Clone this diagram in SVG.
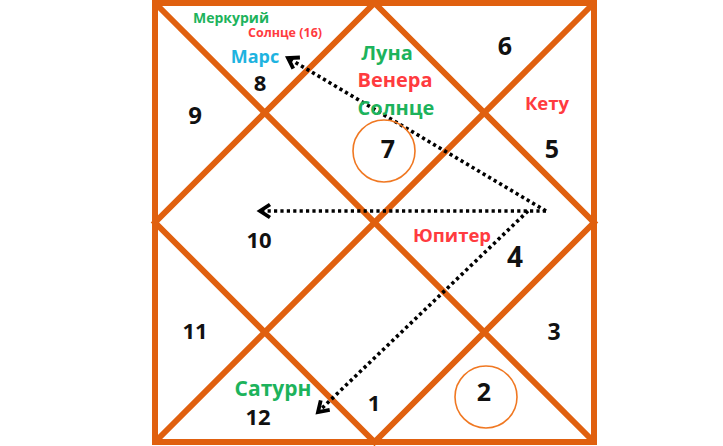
<svg xmlns="http://www.w3.org/2000/svg" width="723" height="446" viewBox="0 0 723 446">
<style>
.frame{fill:none;stroke:#E0600F;stroke-width:6;stroke-linejoin:miter}
.ring{fill:none;stroke:#F07822;stroke-width:1.6}
text{font-family:"Open Sans","Noto Sans","Liberation Sans",sans-serif;text-anchor:middle}
.num{fill:#111;font-weight:700}
.lbl{font-weight:700}
.g{fill:#1DB35C}
.r{fill:#FF3B3F}
.b{fill:#1EB3E0}
.dot{fill:none;stroke:#000;stroke-width:3.6;stroke-dasharray:3.2 3.2}
</style>
<defs>
<marker id="chev" markerUnits="userSpaceOnUse" viewBox="-14 -9 18 18" refX="0" refY="0" markerWidth="18" markerHeight="18" orient="auto">
<path d="M-10,-6.5 L0,0 L-10,6.5" fill="none" stroke="#000" stroke-width="3.8" stroke-linejoin="miter" stroke-linecap="butt"/>
</marker>
</defs>
<rect width="723" height="446" fill="#fff"/>
<g id="chart">
<rect class="frame" x="155" y="3" width="439" height="439"/>
<line class="frame" x1="155" y1="3" x2="594" y2="442"/>
<line class="frame" x1="594" y1="3" x2="155" y2="442"/>
<polygon class="frame" points="374.5,3 594,222.5 374.5,442 155,222.5"/>
</g>
<g id="connectors">
<line class="dot" x1="546" y1="211" x2="288" y2="58" marker-end="url(#chev)"/>
<line class="dot" x1="546" y1="211" x2="260" y2="211" marker-end="url(#chev)"/>
<line class="dot" x1="528" y1="211" x2="318" y2="412" marker-end="url(#chev)"/>
</g>
<g id="house1"><text class="num" x="374" y="411" font-size="22">1</text></g>
<g id="house2"><circle class="ring" cx="486" cy="397" r="31"/><text class="num" x="484" y="401" font-size="25">2</text></g>
<g id="house3"><text class="num" x="554" y="340" font-size="23">3</text></g>
<g id="house4"><text class="lbl r" x="452" y="242" font-size="18.5">Юпитер</text><text class="num" x="515" y="267" font-size="28">4</text></g>
<g id="house5"><text class="lbl r" x="547" y="110" font-size="18.5">Кету</text><text class="num" x="552" y="158" font-size="25">5</text></g>
<g id="house6"><text class="num" x="505" y="55" font-size="25">6</text></g>
<g id="house7"><text class="lbl g" x="387" y="60" font-size="20">Луна</text><text class="lbl r" x="395" y="87" font-size="20">Венера</text><text class="lbl g" x="396" y="115" font-size="20">Солнце</text><circle class="ring" cx="384" cy="151" r="31"/><text class="num" x="388" y="158" font-size="25">7</text></g>
<g id="house8"><text class="lbl g" x="231" y="23" font-size="14">Меркурий</text><text class="lbl r" x="285" y="37" font-size="12.5">Солнце (16)</text><text class="lbl b" x="255" y="63" font-size="18">Марс</text><text class="num" x="260" y="91" font-size="22">8</text></g>
<g id="house9"><text class="num" x="195" y="124" font-size="24">9</text></g>
<g id="house10"><text class="num" x="259" y="248" font-size="22">10</text></g>
<g id="house11"><text class="num" x="195" y="339" font-size="22">11</text></g>
<g id="house12"><text class="lbl g" x="273" y="396" font-size="21">Сатурн</text><text class="num" x="258" y="425" font-size="22">12</text></g>
</svg>
